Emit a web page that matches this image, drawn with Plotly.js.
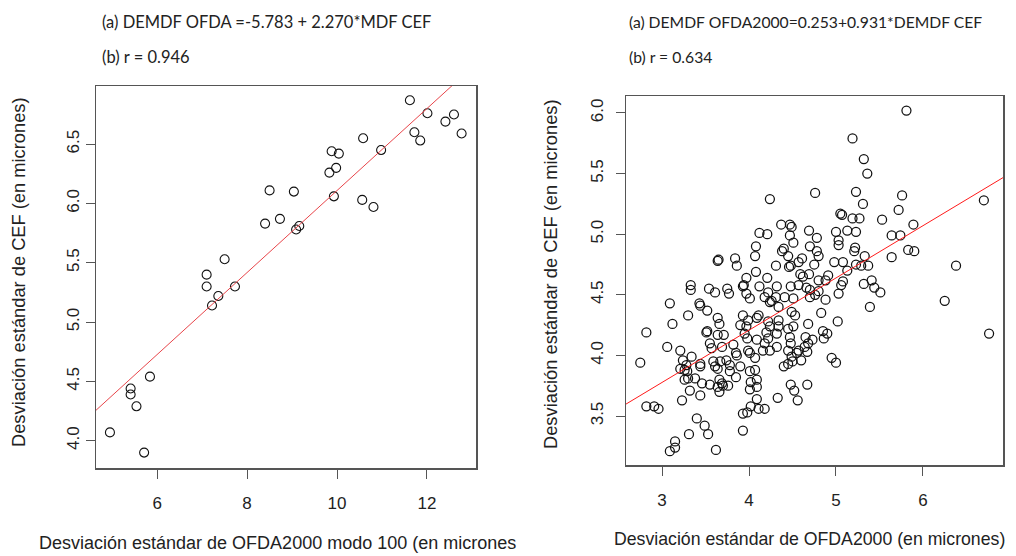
<!DOCTYPE html>
<html>
<head>
<meta charset="utf-8">
<script src="https://cdn.plot.ly/plotly-3.0.1.min.js"></script>
<style>html,body{margin:0;padding:0;background:#fff;}#chart{width:1016px;height:556px;}</style>
</head>
<body>
<div id="chart"></div>
<script>
// ---- Left panel data ----
const leftX = [11.62,12.01,12.60,12.41,11.72,11.85,12.77,10.58,10.98,9.88,10.04,9.98,9.83,8.50,9.04,9.93,10.56,10.81,8.73,8.40,9.16,9.09,7.50,7.10,7.10,7.73,7.36,7.22,5.84,5.41,5.41,5.54,4.95,5.71];
const leftY = [6.87,6.76,6.75,6.69,6.60,6.53,6.59,6.55,6.45,6.44,6.42,6.30,6.26,6.11,6.10,6.06,6.03,5.97,5.87,5.83,5.81,5.78,5.53,5.40,5.30,5.30,5.22,5.14,4.54,4.44,4.39,4.29,4.07,3.90];
const leftFit = [2.653, 0.3456]; // intercept, slope of drawn red line
const leftXTicks = [6, 8, 10, 12];
const leftYTicks = [4.0, 4.5, 5.0, 5.5, 6.0, 6.5];

// ---- Right panel data ----
const rightX = [
 5.81,5.76,5.72,5.53,5.89,5.64,5.74,5.83,5.90,5.64,5.51,6.70,6.38,6.25,6.76,5.19,
 5.32,5.36,4.24,4.76,5.23,5.31,5.05,5.07,5.19,5.27,
 4.37,4.47,4.49,4.12,4.21,4.69,4.78,5.00,5.13,5.23,
 4.47,4.51,5.03,5.03,4.08,4.40,4.38,4.70,5.22,5.21,
 4.78,4.80,4.07,4.45,5.33,4.61,4.57,4.31,4.48,4.46,
 4.75,4.98,5.08,5.23,5.29,5.37,4.08,4.59,4.62,4.69,
 4.91,5.13,4.21,4.80,4.88,5.32,5.41,5.44,
 4.12,4.32,4.48,4.57,5.06,5.08,4.66,4.70,4.80,4.22,5.03,
 4.18,4.31,4.41,4.51,4.70,4.76,4.88,4.26,
 3.65,3.64,3.84,3.86,3.97,3.94,3.33,3.33,3.54,3.61,3.75,3.77,3.93,3.97,4.01,3.09,3.43,
 3.44,3.52,3.30,3.12,3.64,3.66,3.93,3.99,2.82,3.51,3.52,3.64,3.71,3.90,3.97,3.95,3.98,4.09,
 3.06,3.21,3.55,3.57,3.69,3.82,3.85,3.86,3.99,4.01,3.34,3.24,3.28,3.44,3.44,3.59,3.67,3.74,2.75,
 3.21,3.26,3.61,3.64,3.78,3.78,3.90,4.01,4.07,3.29,3.30,3.26,3.38,3.66,3.69,3.85,3.46,3.55,3.64,3.70,3.76,4.02,4.09,3.66,4.01,4.09,3.32,3.44,3.23,2.82,2.91,2.96,4.09,4.11,4.02,3.93,3.98,3.40,3.49,3.53,3.31,3.93,3.15,3.15,3.09,3.62,
 5.39,4.83,5.02,4.68,4.85,4.90,4.86,4.51,4.45,4.65,4.73,4.68,4.64,4.67,4.57,4.55,4.49,4.47,4.48,4.45,4.95,5.00,4.60,4.50,4.45,4.40,4.32,4.32,4.34,4.22,4.24,4.20,4.22,4.18,4.16,4.24,4.11,4.09,4.34,4.34,4.24,4.53,4.49,4.07,4.48,4.52,4.56,4.67,4.33,4.18
];
const rightY = [
 6.02,5.32,5.20,5.12,5.08,4.99,4.99,4.87,4.86,4.81,4.52,5.28,4.74,4.45,4.18,5.79,
 5.62,5.50,5.29,5.34,5.35,5.25,5.17,5.16,5.13,5.13,
 5.08,5.08,5.06,5.01,5.00,5.03,4.97,5.02,5.03,5.02,
 4.99,4.93,4.95,4.91,4.90,4.88,4.86,4.90,4.89,4.86,
 4.86,4.82,4.82,4.82,4.82,4.80,4.77,4.74,4.74,4.73,
 4.75,4.77,4.77,4.75,4.74,4.74,4.69,4.67,4.65,4.67,
 4.66,4.70,4.64,4.62,4.62,4.59,4.62,4.56,
 4.57,4.57,4.57,4.58,4.58,4.61,4.56,4.54,4.53,4.52,4.51,
 4.48,4.48,4.48,4.47,4.48,4.50,4.46,4.45,
 4.79,4.78,4.80,4.74,4.64,4.58,4.58,4.54,4.55,4.52,4.55,4.51,4.57,4.51,4.47,4.43,4.43,
 4.41,4.37,4.33,4.26,4.31,4.26,4.33,4.29,4.19,4.19,4.20,4.17,4.17,4.25,4.24,4.18,4.14,4.13,
 4.07,4.04,4.10,4.06,4.07,4.09,4.02,4.00,4.04,4.02,3.99,3.96,3.92,3.93,3.91,3.95,3.95,3.96,3.94,
 3.89,3.88,3.91,3.89,3.92,3.87,3.91,3.87,3.88,3.87,3.81,3.80,3.81,3.80,3.77,3.82,3.77,3.76,3.74,3.75,3.75,3.78,3.80,3.70,3.72,3.74,3.71,3.67,3.63,3.58,3.58,3.56,3.64,3.56,3.58,3.52,3.53,3.48,3.42,3.35,3.35,3.38,3.29,3.24,3.21,3.22,
 4.40,4.35,4.28,4.26,4.20,4.18,4.14,4.24,4.22,4.15,4.13,4.10,4.07,4.03,4.04,4.02,3.99,4.15,4.10,4.04,3.98,3.94,3.96,3.95,3.93,3.91,4.07,4.18,4.24,4.28,4.24,4.19,4.14,4.10,4.04,4.04,4.33,4.31,4.29,4.40,4.44,4.33,4.36,3.98,3.76,3.71,3.63,3.76,3.65,3.56
];
const rightFit = [2.484, 0.431];
const rightXTicks = [3, 4, 5, 6];
const rightYTicks = [3.5, 4.0, 4.5, 5.0, 5.5, 6.0];

const leftTitleA = '(a) DEMDF OFDA =-5.783 + 2.270*MDF CEF';
const leftTitleB = '(b) r = 0.946';
const rightTitleA = '(a) DEMDF OFDA2000=0.253+0.931*DEMDF CEF';
const rightTitleB = '(b) r = 0.634';
const leftXLabel = 'Desviación estándar de OFDA2000 modo 100 (en micrones';
const rightXLabel = 'Desviación estándar de OFDA2000 (en micrones)';
const yLabel = 'Desviación estándar de CEF (en micrones)';

const W = 1016, H = 556;
const leftXRange = [4.64, 13.09], leftYRange = [3.77, 6.99];
const rightXRange = [2.586, 6.92], rightYRange = [3.096, 6.14];

const traces = [
  {x: leftX, y: leftY, type: 'scatter', mode: 'markers', xaxis: 'x', yaxis: 'y',
   marker: {symbol: 'circle-open', size: 9, color: '#111', line: {width: 1.1}}, hoverinfo: 'x+y'},
  {x: leftXRange, y: leftXRange.map(v => leftFit[0] + leftFit[1] * v), type: 'scatter', mode: 'lines',
   xaxis: 'x', yaxis: 'y', line: {color: '#e8454a', width: 1}},
  {x: rightX, y: rightY, type: 'scatter', mode: 'markers', xaxis: 'x2', yaxis: 'y2',
   marker: {symbol: 'circle-open', size: 9, color: '#111', line: {width: 1.25}}, hoverinfo: 'x+y'},
  {x: rightXRange, y: rightXRange.map(v => rightFit[0] + rightFit[1] * v), type: 'scatter', mode: 'lines',
   xaxis: 'x2', yaxis: 'y2', line: {color: '#ff1a1a', width: 1}}
];

const tickFont = {family: 'Liberation Sans, Arial, sans-serif', size: 17, color: '#222'};
function axis(extra) {
  return Object.assign({
    showline: true, mirror: true, linecolor: '#555', linewidth: 1.5,
    ticks: 'outside', ticklen: 9, tickcolor: '#555', tickwidth: 1,
    showgrid: false, zeroline: false, tickfont: tickFont, fixedrange: true
  }, extra);
}

const annFontL = {family: 'Lato, Open Sans, sans-serif', size: 16.5, color: '#222'};
const annFontR = {family: 'Lato, Open Sans, sans-serif', size: 15.7, color: '#222'};
const labFontL = {family: 'Liberation Sans, Arial, sans-serif', size: 18, color: '#222'};
const labFontR = {family: 'Liberation Sans, Arial, sans-serif', size: 17.7, color: '#222'};
const yLabFont = {family: 'Liberation Sans, Arial, sans-serif', size: 18.3, color: '#222'};

const layout = {
  width: W, height: H, margin: {l: 0, r: 0, t: 0, b: 0},
  paper_bgcolor: '#fff', plot_bgcolor: '#fff', showlegend: false,
  xaxis: axis({domain: [96 / W, 476 / W], range: leftXRange, anchor: 'y', tickvals: leftXTicks, ticklabelstandoff: 10}),
  yaxis: axis({domain: [1 - 468 / H, 1 - 86 / H], range: leftYRange, anchor: 'x', tickvals: leftYTicks,
    tickformat: '.1f', tickangle: -90, ticklabelstandoff: 0}),
  xaxis2: axis({domain: [626 / W, 1003 / W], range: rightXRange, anchor: 'y2', tickvals: rightXTicks, ticklabelstandoff: 10}),
  yaxis2: axis({domain: [1 - 465 / H, 1 - 96 / H], range: rightYRange, anchor: 'x2', tickvals: rightYTicks,
    tickformat: '.1f', tickangle: -90, ticklabelstandoff: 6}),
  annotations: [
    {text: leftTitleA, xref: 'paper', yref: 'paper', x: 100 / W, y: 1 - 22 / H, xanchor: 'left', yanchor: 'middle', showarrow: false, font: annFontL},
    {text: leftTitleB, xref: 'paper', yref: 'paper', x: 100 / W, y: 1 - 57 / H, xanchor: 'left', yanchor: 'middle', showarrow: false, font: annFontL},
    {text: rightTitleA, xref: 'paper', yref: 'paper', x: 627 / W, y: 1 - 22 / H, xanchor: 'left', yanchor: 'middle', showarrow: false, font: annFontR},
    {text: rightTitleB, xref: 'paper', yref: 'paper', x: 627 / W, y: 1 - 57 / H, xanchor: 'left', yanchor: 'middle', showarrow: false, font: annFontR},
    {text: leftXLabel, xref: 'paper', yref: 'paper', x: 37 / W, y: 1 - 543 / H, xanchor: 'left', yanchor: 'middle', showarrow: false, font: labFontL},
    {text: rightXLabel, xref: 'paper', yref: 'paper', x: 612 / W, y: 1 - 539 / H, xanchor: 'left', yanchor: 'middle', showarrow: false, font: labFontR},
    {text: yLabel, xref: 'paper', yref: 'paper', x: 18 / W, y: 1 - 272 / H, xanchor: 'center', yanchor: 'middle', textangle: -90, showarrow: false, font: yLabFont},
    {text: yLabel, xref: 'paper', yref: 'paper', x: 550 / W, y: 1 - 274 / H, xanchor: 'center', yanchor: 'middle', textangle: -90, showarrow: false, font: yLabFont}
  ]
};

Plotly.newPlot('chart', traces, layout, {staticPlot: true, displayModeBar: false});
</script>
</body>
</html>
